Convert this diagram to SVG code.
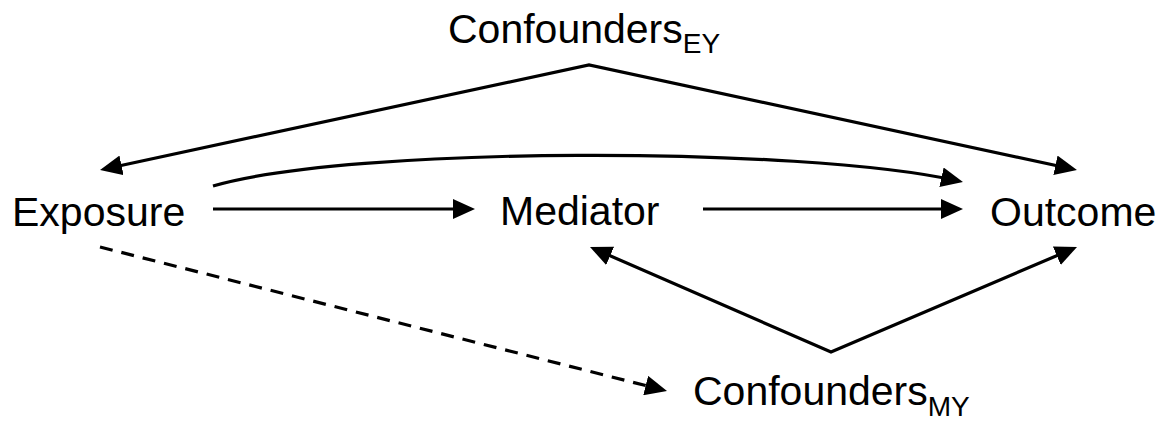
<svg xmlns="http://www.w3.org/2000/svg" width="1176" height="422" viewBox="0 0 1176 422">
<style>
.lbl{font-family:"Liberation Sans",Arial,sans-serif;font-size:41px;fill:#000}
.sub{font-size:28px}
.edge{fill:none;stroke:#000;stroke-width:3.2}
.dash{stroke-dasharray:13 9}
</style>
<defs>
<marker id="ah" markerUnits="userSpaceOnUse" markerWidth="22" markerHeight="20" viewBox="0 0 22 20" refX="16" refY="10" orient="auto-start-reverse">
<path d="M0,0 L22,10 L0,20 z" fill="#000"/>
</marker>
</defs>
<rect width="1176" height="422" fill="#fff"/>
<g id="connectors">
<path class="edge" d="M105.9,168.7 L589,65 L1071.1,168.7" marker-start="url(#ah)" marker-end="url(#ah)"/>
<path class="edge" d="M213,186 C350,146 800,146 957.1,180.7" marker-end="url(#ah)"/>
<path class="edge" d="M213,209 L469,209" marker-end="url(#ah)"/>
<path class="edge" d="M703,209 L957,209" marker-end="url(#ah)"/>
<path class="edge" d="M595.5,249.4 L831,352 L1071.5,249.4" marker-start="url(#ah)" marker-end="url(#ah)"/>
<path class="edge dash" d="M100,247 L661.2,389.5" marker-end="url(#ah)"/>
</g>
<g id="confounders-ey"><text class="lbl" x="448" y="43">Confounders<tspan class="sub" dy="10">EY</tspan></text></g>
<g id="exposure"><text class="lbl" x="12" y="226">Exposure</text></g>
<g id="mediator"><text class="lbl" x="500" y="225">Mediator</text></g>
<g id="outcome"><text class="lbl" x="990" y="226">Outcome</text></g>
<g id="confounders-my"><text class="lbl" x="693" y="405">Confounders<tspan class="sub" dy="11">MY</tspan></text></g>
</svg>
